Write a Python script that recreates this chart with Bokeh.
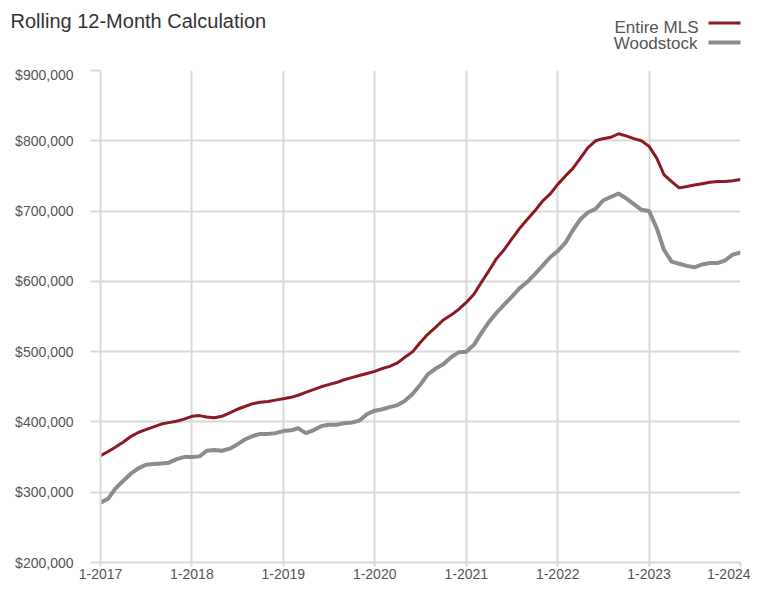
import pandas as pd
from bokeh.plotting import figure
from bokeh.layouts import column
from bokeh.models import Range1d, FixedTicker, NumeralTickFormatter
from bokeh.core.properties import value
from bokeh.embed import file_html
from bokeh.resources import INLINE

# ---- data (thousands of dollars, monthly rolling 12-month values) ----
months = pd.date_range("2017-01-01", "2024-01-01", freq="MS")

entire_mls_k = [
    352, 358, 364, 371, 379, 385, 389, 393, 397, 399, 401, 404,
    408, 409, 407, 406, 408, 413, 418, 422, 426, 428, 429, 431,
    433, 435, 438, 442, 446, 450, 453, 456, 460, 463, 466, 469,
    472, 476, 479, 484, 492, 500, 513, 525, 535, 545, 552, 560,
    570, 582, 598, 615, 632, 645, 660, 675, 688, 700, 714, 724,
    738, 750, 760, 775, 790, 800, 803, 805, 810, 807, 803, 800,
    792, 775, 752, 742, 733, 735, 737, 739, 741, 742, 742, 743,
    745,
]
woodstock_k = [
    285, 291, 305, 316, 326, 334, 339, 340, 341, 342, 347, 350,
    350, 351, 359, 360, 359, 362, 368, 375, 380, 383, 383, 384,
    387, 388, 391, 384, 388, 394, 396, 396, 398, 399, 402, 411,
    416, 418, 421, 424, 430, 440, 453, 468, 476, 482, 492, 499,
    500, 510, 526, 542, 555, 567, 578, 590, 599, 610, 622, 634,
    643, 655, 672, 688, 698, 703, 715, 720, 725, 718, 710, 702,
    700, 675, 645, 628, 625, 622, 620, 624, 626, 626, 630, 638,
    641,
]
entire_mls = [v * 1000 for v in entire_mls_k]
woodstock = [v * 1000 for v in woodstock_k]

tick_years = [2017, 2018, 2019, 2020, 2021, 2022, 2023, 2024]
tick_labels = ["1-2017", "1-2018", "1-2019", "1-2020", "1-2021", "1-2022", "1-2023", "1-2024"]
y_ticks = [200000, 300000, 400000, 500000, 600000, 700000, 800000, 900000]

title_text = "Rolling 12-Month Calculation"
series_names = ["Entire MLS", "Woodstock"]
colors = ["#8b1a22", "#8c8c8c"]

font = "Liberation Sans"
W = 750
HEAD_H = 66

# ---- header figure (title + legend) ----
head = figure(width=W, height=HEAD_H, x_range=Range1d(0, W), y_range=Range1d(HEAD_H, 0),
              output_backend="svg", toolbar_location=None,
              min_border_left=0, min_border_right=0, min_border_top=0, min_border_bottom=0)
head.frame_align = False
head.axis.visible = False
head.grid.visible = False
head.outline_line_color = None
head.background_fill_color = "white"
head.border_fill_color = "white"

head.text(x=[10], y=[20], text=[title_text], text_font=value(font),
          text_font_size="20px", text_color="#333333",
          text_align="left", text_baseline="alphabetic")
head.text(x=[698, 697], y=[27, 43], text=series_names, text_font=value(font),
          text_font_size="17px", text_color="#555555",
          text_align="right", text_baseline="alphabetic")
head.segment(x0=[708, 708], y0=[22.5, 42], x1=[740, 740], y1=[22.5, 42],
             line_color=colors, line_width=[3, 4])

# ---- main chart ----
tick_ms = [int(pd.Timestamp(f"{y}-01-01").value // 10**6) for y in tick_years]
start_ms, end_ms = tick_ms[0], tick_ms[-1]

p = figure(width=W, height=584 - HEAD_H, x_axis_type="datetime",
           x_range=Range1d(start_ms, end_ms), y_range=Range1d(200000, 900000),
           output_backend="svg", toolbar_location=None,
           min_border_left=100, min_border_right=10, min_border_top=4, min_border_bottom=22)
p.frame_align = False
p.outline_line_color = None
p.background_fill_color = "white"
p.border_fill_color = "white"

grid_col = "#d9d9d9"
p.xgrid.ticker = FixedTicker(ticks=tick_ms)
p.ygrid.ticker = FixedTicker(ticks=y_ticks)
for g in (p.xgrid, p.ygrid):
    g.grid_line_color = grid_col
    g.grid_line_width = 2

for ax in (p.xaxis, p.yaxis):
    ax.axis_line_color = grid_col
    ax.axis_line_width = 2
    ax.major_tick_line_color = grid_col
    ax.major_tick_line_width = 2
    ax.major_tick_in = 0
    ax.minor_tick_line_color = None
    ax.major_label_text_font = font
    ax.major_label_text_font_size = "14px"
    ax.major_label_text_color = "#555555"

p.xaxis.ticker = FixedTicker(ticks=tick_ms)
p.xaxis.major_label_overrides = {t: lab for t, lab in zip(tick_ms, tick_labels)}
p.xaxis.major_tick_out = 4
p.xaxis.major_label_standoff = 2

p.yaxis.ticker = FixedTicker(ticks=y_ticks)
p.yaxis.formatter = NumeralTickFormatter(format="$0,0")
p.yaxis.major_tick_out = 10
p.yaxis.major_label_standoff = 17

p.line(months, woodstock, line_color=colors[1], line_width=4)
p.line(months, entire_mls, line_color=colors[0], line_width=3)

layout = column(head, p, spacing=0)
open("out.html", "w").write(file_html(layout, INLINE))
